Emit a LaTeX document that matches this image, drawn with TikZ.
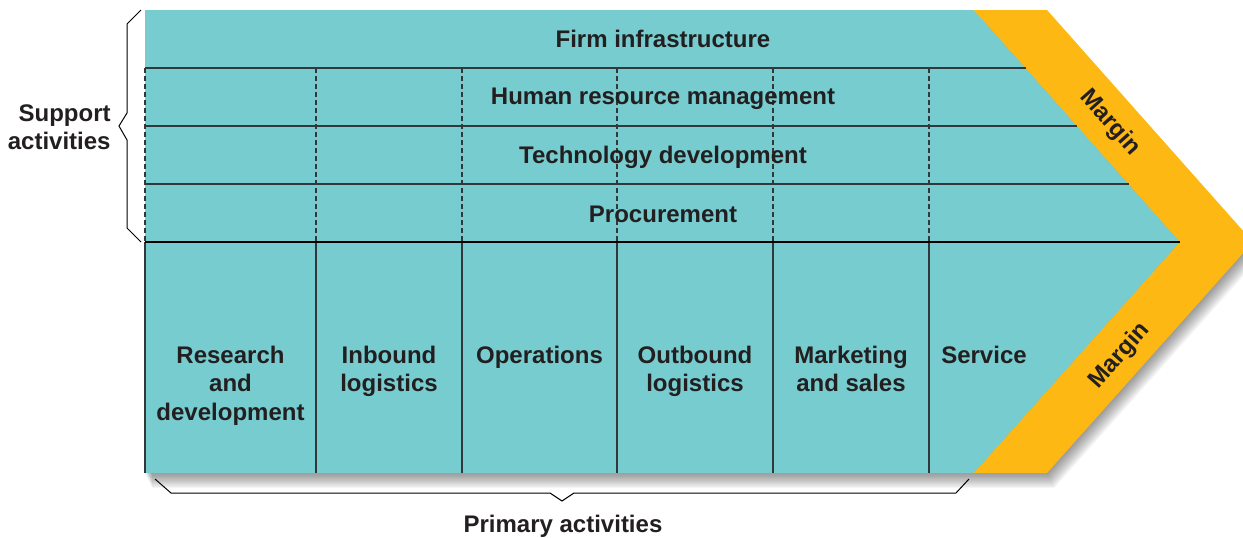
\documentclass[tikz,border=0pt]{standalone}
\usepackage{fontspec}
\setmainfont{Liberation Sans}
\definecolor{tealfill}{RGB}{118,204,206}
\definecolor{orng}{RGB}{253,184,19}
\definecolor{ink}{RGB}{35,31,32}
\definecolor{linec}{RGB}{50,55,58}
\begin{document}
\begin{tikzpicture}[x=0.5pt,y=-0.5pt,
  lbl/.style={font=\bfseries\fontsize{12}{14.2}\selectfont, text=ink, inner sep=0pt, align=center},
  rowline/.style={line width=0.75pt, draw=linec},
  sepline/.style={line width=1.1pt, draw=black},
  colline/.style={line width=0.6pt, draw=linec},
  dashline/.style={line width=0.6pt, draw=linec, dash pattern=on 2.5pt off 1.5pt},
  bracel/.style={line width=0.5pt, draw=black, line join=miter}]
\useasboundingbox (0,0) rectangle (1243,537);
\begin{scope}
\clip (0,0) rectangle (1243,537);
% soft shadow
\foreach \k in {1,...,12}{
  \begin{scope}[shift={(0.6*\k,1.25*\k)}]
    \fill[black, opacity=0.038] (145,10) -- (1047,10) -- (1253,242) -- (1047,473) -- (145,473) -- cycle;
  \end{scope}
}
% body
\fill[tealfill] (145,10) -- (974,10) -- (1180,242) -- (974,473) -- (145,473) -- cycle;
\fill[orng] (974,10) -- (1047,10) -- (1253,242) -- (1047,473) -- (974,473) -- (1180,242) -- cycle;
\end{scope}
% row lines
\draw[rowline] (145,68) -- (1025.5,68);
\draw[rowline] (145,126) -- (1077,126);
\draw[rowline] (145,184) -- (1128.5,184);
% columns
\foreach \x in {145,316,462,617,773,929}{
  \draw[dashline] (\x,68) -- (\x,242);
  \draw[colline] (\x,242) -- (\x,473);
}
\draw[sepline] (145,242) -- (1180,242);
% braces
\draw[bracel] (141,10) -- (127,24) -- (127,113) -- (119,126) -- (127,140) -- (127,228) -- (141,242);
\draw[bracel] (155,479) -- (171,493) -- (550,493) -- (562,501) -- (574,493) -- (956,493) -- (969,479);
% support labels
\node[lbl, anchor=base] (firm) at (663,47.6) {Firm infrastructure};
\node[lbl, anchor=base] (hrm) at (663,104.6) {Human resource management};
\node[lbl, anchor=base] (tech) at (663,163.6) {Technology development};
\node[lbl, anchor=base] (proc) at (663,222.6) {Procurement};
% primary labels
\node[lbl, anchor=north] (rd) at (230.5,345.5) {Research\\and\\development};
\node[lbl, anchor=north] (inb) at (389,345.5) {Inbound\\logistics};
\node[lbl, anchor=north] (ops) at (539.5,345.5) {Operations};
\node[lbl, anchor=north] (outb) at (695,345.5) {Outbound\\logistics};
\node[lbl, anchor=north] (mkt) at (851,345.5) {Marketing\\and sales};
\node[lbl, anchor=north] (srv) at (984,345.5) {Service};
% margin labels
\node[lbl, rotate=-48.4, text depth=0pt] (m1) at (1112,121) {Margin};
\node[lbl, rotate=48.4, text depth=0pt] (m2) at (1118,354) {Margin};
% side labels
\node[lbl, anchor=north east, align=right] (sup) at (111,104.4) {Support\\activities};
\node[lbl, anchor=north] (prim) at (563,514.4) {Primary activities};
\end{tikzpicture}
\end{document}
